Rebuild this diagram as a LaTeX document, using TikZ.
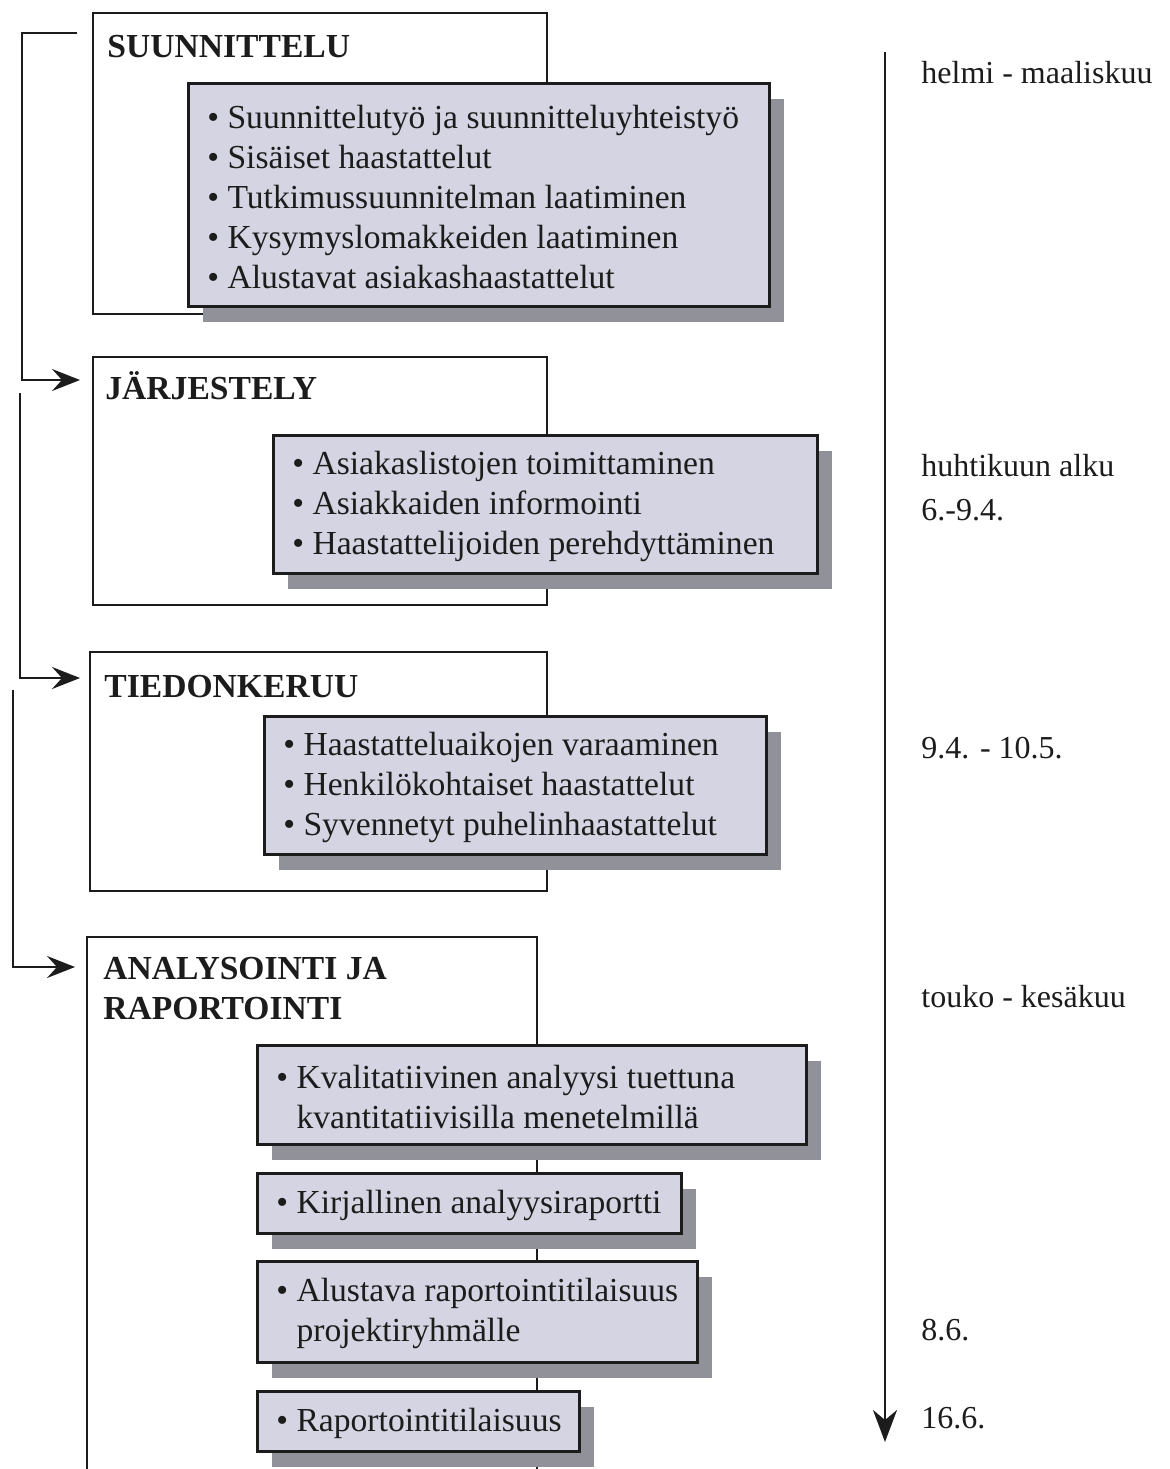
\documentclass[tikz,border=0pt]{standalone}
\usepackage{fontspec}
\setmainfont{Liberation Serif}
\usetikzlibrary{arrows.meta,shadows,calc}
\definecolor{boxfill}{RGB}{212,212,226}
\definecolor{shadowc}{RGB}{145,145,153}
\definecolor{ink}{RGB}{28,28,28}
\newcommand\bxfont{\fontsize{16.8}{20}\selectfont}
\newcommand\ttlfont{\fontsize{16.8}{20}\selectfont\bfseries}
\newcommand\dtfont{\fontsize{16}{21.5}\selectfont}
\begin{document}
\begin{tikzpicture}[x=0.5pt,y=-0.5pt,
  outbox/.style={draw=ink, line width=1.1pt, anchor=north west, inner sep=0pt},
  inbox/.style={draw=ink, line width=1.4pt, fill=boxfill, anchor=north west, inner sep=0pt,
    general shadow={fill=shadowc, shadow xshift=7.5pt, shadow yshift=-8pt}},
  itext/.style={anchor=west, align=left, font=\bxfont, inner sep=0pt, text=ink},
  ttl/.style={anchor=base west, align=left, font=\ttlfont, inner sep=0pt, text=ink},
  datel/.style={anchor=base west, font=\dtfont, inner sep=0pt, text=ink},
  flow/.style={draw=ink, line width=1.2pt, -{Stealth[length=14pt,width=11pt,inset=5pt]}},
  tline/.style={draw=ink, line width=1.3pt, -{Stealth[length=16pt,width=12pt,inset=5pt]}}
]
\useasboundingbox (0,0) rectangle (1170,1469);
\clip (0,0) rectangle (1170,1469);

% outer phase boxes
\node[outbox, minimum width=227pt, minimum height=150.5pt] (o1) at (92,12) {};
\node[outbox, minimum width=227pt, minimum height=124pt] (o2) at (92,356) {};
\node[outbox, minimum width=228.5pt, minimum height=119.5pt] (o3) at (89,651) {};
\node[outbox, minimum width=225pt, minimum height=270pt] (o4) at (86,936) {};

% titles
\node[ttl] (h1) at (107,57) {SUUNNITTELU};
\node[ttl] (h2) at (105,399) {JÄRJESTELY};
\node[ttl] (h3) at (104,697) {TIEDONKERUU};
\node[ttl] (h4) at (103,1019) {ANALYSOINTI JA\\RAPORTOINTI};

% inner task boxes
\node[inbox, minimum width=290.5pt, minimum height=111.5pt] (p1) at (187,82) {};
\node[itext] (q1) at ($(p1.west)+(20,2)$) {\textbullet\ Suunnittelutyö ja suunnitteluyhteistyö\\
\textbullet\ Sisäiset haastattelut\\
\textbullet\ Tutkimussuunnitelman laatiminen\\
\textbullet\ Kysymyslomakkeiden laatiminen\\
\textbullet\ Alustavat asiakashaastattelut};

\node[inbox, minimum width=272pt, minimum height=69pt] (p2) at (272,434) {};
\node[itext] (q2) at ($(p2.west)+(20,2)$) {\textbullet\ Asiakaslistojen toimittaminen\\
\textbullet\ Asiakkaiden informointi\\
\textbullet\ Haastattelijoiden perehdyttäminen};

\node[inbox, minimum width=251pt, minimum height=69pt] (p3) at (263,715) {};
\node[itext] (q3) at ($(p3.west)+(20,2)$) {\textbullet\ Haastatteluaikojen varaaminen\\
\textbullet\ Henkilökohtaiset haastattelut\\
\textbullet\ Syvennetyt puhelinhaastattelut};

\node[inbox, minimum width=274.5pt, minimum height=49.5pt] (pa) at (256,1044) {};
\node[itext] (qa) at ($(pa.west)+(20,2)$) {\textbullet\ Kvalitatiivinen analyysi tuettuna\\
\phantom{\textbullet\ }kvantitatiivisilla menetelmillä};

\node[inbox, minimum width=212pt, minimum height=30pt] (pb) at (256,1172) {};
\node[itext] (qb) at ($(pb.west)+(20,2)$) {\textbullet\ Kirjallinen analyysiraportti};

\node[inbox, minimum width=220pt, minimum height=50.5pt] (pc) at (256,1260) {};
\node[itext] (qc) at ($(pc.west)+(20,2)$) {\textbullet\ Alustava raportointitilaisuus\\
\phantom{\textbullet\ }projektiryhmälle};

\node[inbox, minimum width=161pt, minimum height=30pt] (pd) at (256,1390) {};
\node[itext] (qd) at ($(pd.west)+(20,2)$) {\textbullet\ Raportointitilaisuus};

% flow connectors on the left
\coordinate (s1) at (77,33);
\coordinate (e1) at (80,380);
\draw[flow] (s1) -- ++(-55,0) |- (e1);
\coordinate (s2) at (20,393);
\coordinate (e2) at (80,678);
\draw[flow] (s2) |- (e2);
\coordinate (s3) at (13,690);
\coordinate (e3) at (75,967);
\draw[flow] (s3) |- (e3);

% timeline
\coordinate (tl0) at (885,52);
\coordinate (tl1) at (885,1442);
\draw[tline] (tl0) -- (tl1);

\node[datel] (d1) at (921,83) {helmi - maaliskuu};
\node[datel] (d2) at (921,476) {huhtikuun alku};
\node[datel] (d3) at (921,520) {6.-9.4.};
\node[datel] (d4) at (921,758) {9.4. - 10.5.};
\node[datel] (d5) at (921,1007) {touko - kesäkuu};
\node[datel] (d6) at (921,1340) {8.6.};
\node[datel] (d7) at (921,1428) {16.6.};
\end{tikzpicture}
\end{document}
